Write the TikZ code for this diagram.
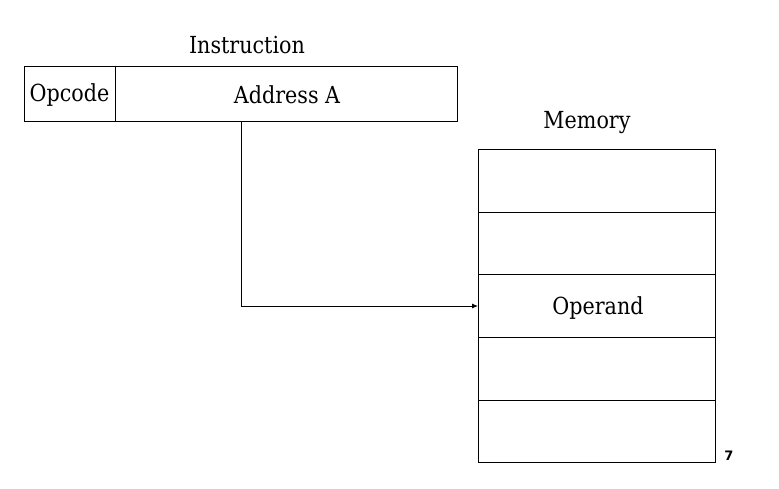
\documentclass[tikz,border=0pt]{standalone}
\usepackage{fontspec}
\setmainfont[FakeStretch=0.88]{DejaVu Serif}
\setsansfont{DejaVu Sans}
\usetikzlibrary{arrows.meta}
\begin{document}
\begin{tikzpicture}[x=1pt,y=-1pt,
  box/.style={draw,line width=0.9pt},
  lbl/.style={inner sep=0pt,font=\fontsize{23.5}{26}\selectfont},
  conn/.style={line width=0.9pt,-{Latex[length=6pt,width=5pt]}}]
\useasboundingbox (0,0) rectangle (779,489);
% instruction
\draw[box] (24,66) rectangle (457,121);
\draw[box] (115,66) -- (115,121);
\node[lbl] (instr) at (247,45) {Instruction};
\node[lbl] (opc) at (69.5,95) {Opcode};
\node[lbl] (addr) at (287,95) {Address A};
\coordinate (addrbot) at (241,121);
% memory
\draw[box] (478,149) rectangle (715,462);
\foreach \y in {212,274,337,400} \draw[box] (478,\y) -- (715,\y);
\node[lbl] (mem) at (587,123) {Memory};
\node[lbl] (oper) at (598,308) {Operand};
\coordinate (operleft) at (478,306);
\draw[conn] (addrbot) |- (operleft);
\node[inner sep=0pt,font=\sffamily\bfseries\fontsize{13}{15}\selectfont] (pg) at (729,456) {7};
\end{tikzpicture}
\end{document}
